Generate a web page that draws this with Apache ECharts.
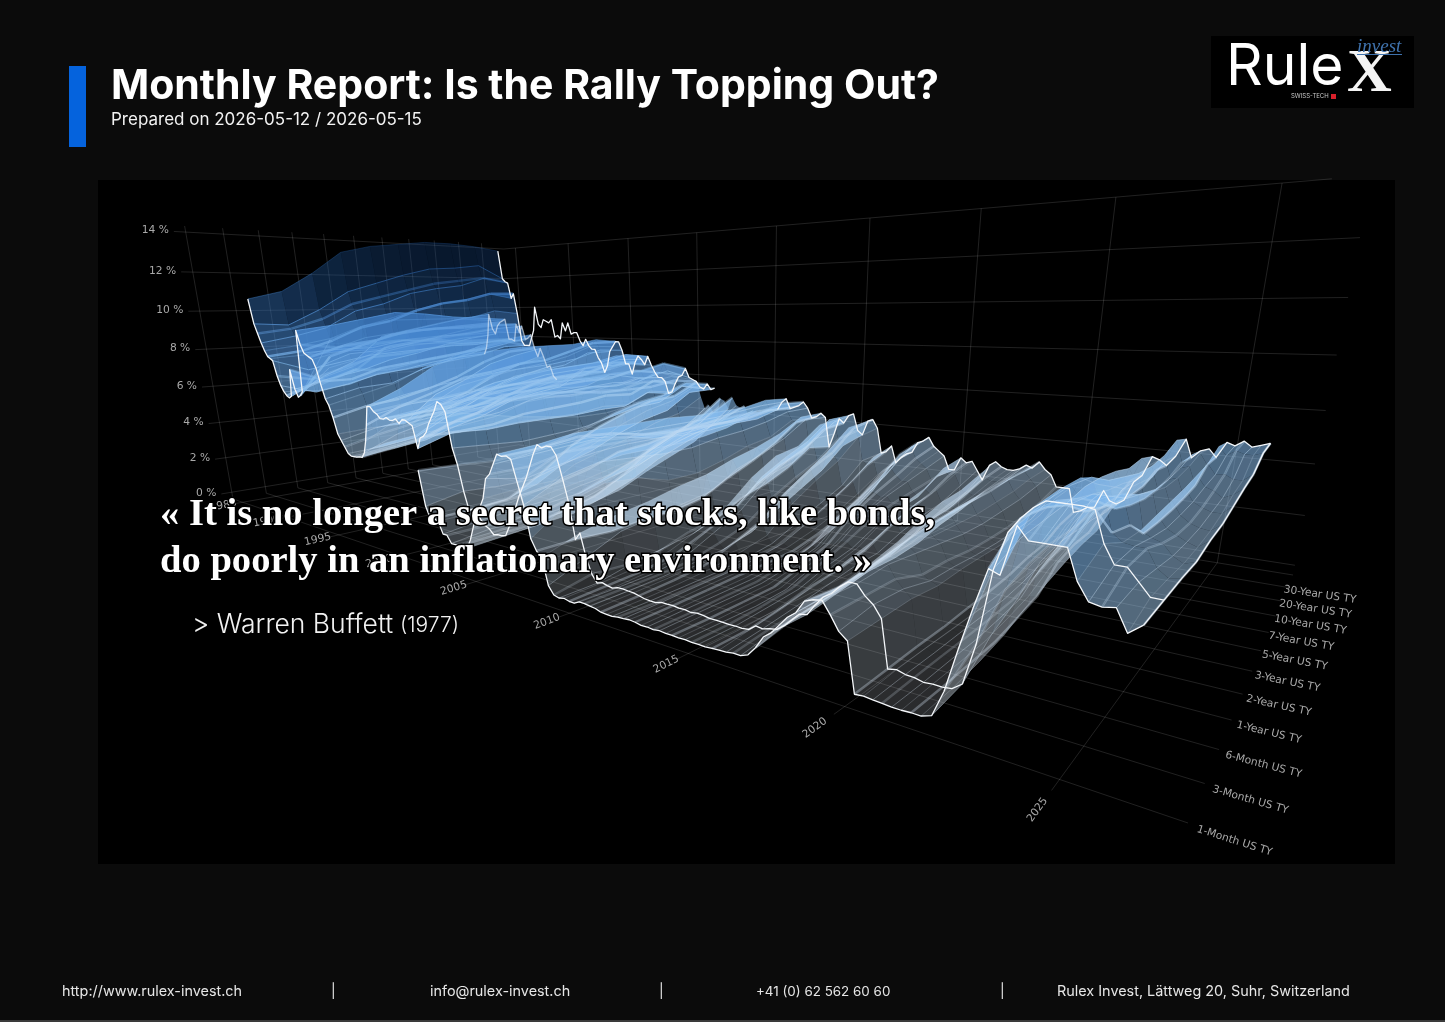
<!DOCTYPE html>
<html>
<head>
<meta charset="utf-8">
<title>Monthly Report</title>
<style>
html,body{margin:0;padding:0;background:#0b0b0b;}
#chart{width:1445px;height:1022px;}
</style>
<script src="https://cdn.jsdelivr.net/npm/echarts@6/dist/echarts.min.js"></script>
</head>
<body>
<div id="chart"></div>
<script>
// US Treasury constant maturity yields (%), 168 evenly spaced readings per maturity.
const firstDate = 1985.4;
const dateStep = 0.2437;
const none = n => Array(n).fill(null);

const m1 = [...none(68),
3.67,2.2,
1.7,1.75,1.7,1.2, 1.2,.9,.9,.9, .85,.9,1.3,1.85, 2.4,2.7,3.1,3.9, 4.1,4.5,4.9,4.85, 4.9,4.8,4,3.2, 2,1.6,1.4,.4,
.1,.05,.1,.05, .04,.15,.15,.12, .1,.03,.02,.01, .05,.06,.09,.07, .03,.04,.02,.05, .03,.03,.02,.03, .01,.02,.01,.03,
.05,.06,.1,.1, .2,.5,.9,1.1, 1.4,1.7,1.9,2.3, 2.4,2.45,2.1,1.7, 1.5,.05,.08,.06, .05,.03,.03,.05, .05,.15,.9,2.1,
3.2,4.2,4.1,5.3, 5,5,5,5, 4.3,3.9,3.85,3.9, 3.4,3.65];

const m3 = [10.6,9.3,
8.8,8.3,7.9,7.6, 7.5,7.4,6.6,6.1, 5.8,5.6,5.5,5.6, 7,6,5.6,5.7, 5.9,9,8.3,7.9, 7.8,7.7,7.6,7.2,
6.4,5.7,5.4,4.8, 4,3.7,3.4,3.1, 3,3,3,3.05, 3.05,3.3,3.9,4.7, 5.6,5.6,5.4,5.3, 5.1,5.1,5.2,5.1,
5.1,5.2,5,5.2, 5.2,5.1,5,4, 4.5,4.6,4.8,5.2, 5.5,5.8,6.2,6.1, 5.8,4.3,3.6,2.5, 1.7,1.8,1.7,1.4,
1.2,1.1,.9,.95, .95,1,1.4,1.7, 2.3,2.8,3.2,3.6, 4.1,4.6,5,4.9, 5,5,4.7,3.9, 3,1.6,1.9,1,
.4,.1,.18,.12, .08,.16,.17,.15, .14,.09,.04,.02, .02,.09,.09,.1, .07,.08,.04,.08, .07,.03,.03,.03,
.02,.03,.02,.05, .24,.21,.28,.33, .52,.77,1.03,1.08, 1.45,1.76,1.93,2.2, 2.4,2.4,2.1,1.9, 1.55,.1,.16,.09,
.08,.02,.05,.04, .08,.3,1.5,3.6, 4.6,5,5.3,5.5, 5.5,5.5,5.5,5.45, 4.7,4.25,4.25,3.95, 3.65,3.65];

const m6 = [11,9.2,
9,8.6,8.1,7.8, 7.6,6.8,6.3,5.6, 5.7,6.2,6.4,6.5, 6.3,6.4,7,7.6, 8.5,9.2,8.1,8, 7.9,8.2,8,7.8,
7,6.1,5.8,5.2, 4.1,4.1,3.8,3.2, 3.4,3.2,3.2,3.2, 3.3,4,4.8,5.4, 6.3,6,5.6,5.6, 5.2,5.2,5.4,5.3,
5.4,5.5,5.3,5.3, 5.4,5.3,5.2,4.5, 4.5,4.6,4.9,5.1, 5.7,6.1,6.4,6.2, 5.5,4.2,3.5,2.4, 1.8,1.9,1.8,1.5,
1.2,1.1,1,1, 1,1.1,1.7,2.1, 2.6,3,3.2,3.9, 4.4,4.7,5.2,5.1, 5.1,5.1,5,4.2, 3.4,1.5,2.2,1.6,
.3,.4,.3,.2, .2,.2,.2,.2, .2,.17,.1,.05, .06,.15,.16,.14, .11,.11,.09,.1, .09,.06,.06,.03,
.1,.14,.08,.23, .48,.39,.36,.45, .62,.89,1.13,1.28, 1.6,1.91,2.11,2.35, 2.5,2.5,2.1,1.85, 1.6,.15,.17,.09,
.1,.05,.05,.06, .2,1.1,2.5,4, 4.8,4.9,5.4,5.55, 5.25,5.4,5.35,4.5, 4.3,4.25,4.25,3.8, 3.6,3.65];

const y1 = [12,10,
9.5,9,8.4,8.3, 7.9,7.1,6.8,5.9, 5.9,6.2,6.9,7.2, 6.8,6.7,7.4,8.1, 9,9.5,8.2,8, 7.9,8.4,8.2,7.9,
6.9,6.2,6.2,5.4, 4.1,4.3,4.1,3.4, 3.6,3.4,3.4,3.4, 3.6,4.4,5.3,5.9, 7.2,6.3,5.7,5.7, 5.2,5.3,5.6,5.5,
5.6,5.9,5.6,5.4, 5.5,5.4,5.4,4.4, 4.5,4.7,5.1,5.3, 6,6.3,6.2,6, 5.2,4.1,3.6,2.4, 2.2,2.7,2.1,1.6,
1.3,1.2,1.1,1.3, 1.2,1.2,2.1,2.2, 2.8,3.3,3.5,4.1, 4.4,4.8,5.2,5, 5,4.9,4.9,4.1, 3.3,1.6,2.4,1.8,
.4,.6,.5,.4, .4,.4,.3,.3, .3,.3,.2,.1, .1,.2,.2,.2, .15,.14,.11,.13, .13,.1,.11,.13,
.25,.26,.33,.5, .65,.59,.45,.6, .89,1.03,1.24,1.47, 1.83,2.1,2.33,2.6, 2.6,2.4,1.75,1.6, 1.5,.17,.16,.12,
.1,.06,.07,.09, .4,1.6,2.8,4.1, 4.7,4.6,5.4,5.45, 4.8,5,5.1,4.3, 4.2,4.05,3.95,3.65, 3.5,3.6];

const y2 = [13.2,11,
10.3,9.9,9,9, 8.4,7.4,7.3,6.3, 6.4,6.7,7.6,8.5, 7.9,7.2,8,8.6, 9.4,9.8,8.3,8.3, 8.1,8.8,8.4,8.2,
7.2,6.8,6.9,5.8, 4.9,5.5,4.9,4.2, 4.5,4,4,3.9, 4.3,5.3,6.1,6.5, 7.7,6.5,5.9,5.9, 5.2,5.9,6.2,6,
5.9,6.4,6,5.8, 5.6,5.6,5.6,4.5, 4.6,5,5.6,5.7, 6.4,6.5,6.3,6.1, 5,4.2,3.9,2.8, 3,3.7,2.9,1.9,
1.6,1.5,1.2,1.6, 1.8,1.6,2.6,2.6, 3.1,3.8,3.7,4.2, 4.4,4.8,5.2,4.7, 4.8,4.6,4.9,4, 2.9,1.6,2.7,2,
.8,.8,1,.9, 1.1,1,.6,.4, .6,.8,.4,.2, .25,.3,.3,.23, .25,.25,.35,.33, .38,.45,.5,.58,
.67,.64,.7,.64, 1,.8,.7,.77, 1.2,1.27,1.4,1.47, 1.9,2.27,2.55,2.8, 2.5,2.3,1.75,1.6, 1.58,.25,.16,.13,
.12,.16,.25,.28, .78,2.3,2.95,4.2, 4.4,4.05,4.9,5.05, 4.25,4.6,4.75,3.65, 4.25,3.9,3.75,3.6, 3.5,3.75];

const y3 = [13.6,11.5,
10.7,10.3,9.4,9.3, 8.6,7.5,7.4,6.5, 6.5,6.9,7.9,8.8, 8.1,7.5,8.2,8.8, 9.4,9.7,8.3,8.2, 8.1,8.9,8.5,8.5,
7.4,7.2,7.4,6.3, 5.3,6.1,5.5,4.9, 5,4.4,4.4,4.3, 4.6,5.7,6.4,6.7, 7.8,6.7,6,6, 5.3,6.1,6.5,6.2,
6,6.6,6.2,5.9, 5.6,5.7,5.6,4.5, 4.6,5.1,5.7,5.9, 6.5,6.5,6.2,6, 4.8,4.3,4.3,3.2, 3.6,4.4,3.3,2.1,
2,1.9,1.5,2.3, 2.4,2.1,3.1,2.9, 3.3,3.9,3.7,4.2, 4.4,4.8,5.2,4.6, 4.7,4.5,4.9,4, 2.9,1.8,2.9,2.2,
1,1.2,1.6,1.4, 1.7,1.6,1,.7, 1,1.3,.7,.4, .36,.5,.4,.3, .37,.36,.66,.63, .78,.88,.9,1.07,
1.1,.9,1,.9, 1.3,.9,.8,.9, 1.5,1.5,1.55,1.6, 2,2.4,2.6,2.9, 2.5,2.2,1.65,1.55, 1.6,.3,.2,.15,
.17,.3,.46,.5, 1.04,2.5,2.95,4.4, 4.2,3.8,4.5,4.85, 4,4.4,4.5,3.6, 4.3,3.9,3.7,3.6, 3.55,3.8];

const y5 = [13.8,12,
11.1,10.9,9.9,9.9, 8.9,7.6,7.6,6.8, 6.7,7.1,8,9.1, 8.3,7.9,8.5,8.9, 9.4,9.5,8.1,8, 8,8.9,8.5,8.6,
7.7,7.6,7.9,7, 6,6.9,6.3,5.7, 5.7,5.1,5,4.9, 5.1,6.3,6.7,7, 7.9,6.8,6,6.1, 5.4,6.2,6.7,6.5,
6.2,6.8,6.4,6, 5.6,5.7,5.5,4.5, 4.6,5.2,5.7,6, 6.5,6.5,6.1,5.8, 4.8,4.6,4.8,3.8, 4.3,4.9,3.7,2.6,
2.7,2.5,2.1,3.2, 3.2,2.8,3.8,3.4, 3.6,4.2,3.7,4.2, 4.4,4.8,5.1,4.6, 4.7,4.5,4.9,4.2, 3.2,2.4,3.3,2.9,
1.6,1.8,2.6,2.3, 2.7,2.6,1.8,1.3, 2,2.2,1.7,.9, .83,1,.7,.6, .76,.77,1.4,1.4, 1.72,1.7,1.63,1.8,
1.6,1.4,1.6,1.4, 1.75,1.3,1.2,1.3, 1.95,1.9,1.9,1.9, 2.2,2.6,2.7,2.95, 2.5,2.2,1.65,1.55, 1.6,.4,.3,.28,
.36,.9,.9,1.2, 1.3,2.5,3,4.4, 4,3.6,4.1,4.65, 3.85,4.2,4.3,3.6, 4.35,3.95,3.8,3.7, 3.7,4];

const y7 = [14,12.4,
11.5,11.2,10.3,10.3, 9.2,7.7,7.8,7, 6.9,7.3,8.2,9.4, 8.5,8.2,8.8,9, 9.3,9.4,8.1,8, 8,9,8.6,8.8,
8,7.9,8.2,7.5, 6.6,7.3,6.8,6.2, 6.2,5.6,5.4,5.2, 5.4,6.5,6.9,7.1, 7.9,6.9,6.1,6.2, 5.5,6.3,6.8,6.6,
6.3,6.9,6.5,6.1, 5.7,5.8,5.6,4.6, 4.8,5.4,5.9,6.1, 6.6,6.5,6.1,5.8, 5,4.9,5.2,4.3, 4.8,5.3,4.2,3.1,
3.3,3.1,2.6,3.8, 3.8,3.3,4.2,3.8, 3.9,4.3,3.8,4.3, 4.4,4.8,5.1,4.6, 4.7,4.6,5,4.3, 3.6,2.9,3.6,3.3,
1.9,2.4,3.3,2.9, 3.3,3.3,2.4,1.9, 2.7,2.9,2.4,1.4, 1.3,1.6,1.1,1, 1.2,1.2,1.9,2, 2.3,2.25,2.1,2.2,
1.9,1.7,2,1.8, 2.1,1.6,1.4,1.6, 2.3,2.2,2.1,2.1, 2.4,2.7,2.8,3, 2.6,2.3,1.7,1.6, 1.7,.6,.5,.5,
.65,1.3,1.2,1.45, 1.5,2.5,3,4.3, 3.9,3.5,4,4.6, 3.85,4.2,4.3,3.65, 4.45,4.1,4,3.8, 3.95,4.2];

const y10 = [14,12.5,
11.7,11.4,10.5,10.5, 9.4,7.7,7.8,7.1, 7.1,7.5,8.3,9.6, 8.7,8.4,8.9,9.1, 9.2,9.3,8.1,8.1, 8,9,8.5,8.9,
8.1,8.2,8.4,7.6, 7.1,7.6,7.1,6.5, 6.6,6,5.8,5.4, 5.7,6.7,7.2,7.5, 7.9,7.1,6.1,6.2, 5.6,6.4,6.9,6.7,
6.4,7,6.5,6.1, 5.7,5.7,5.5,4.6, 4.7,5.3,5.9,6, 6.6,6.2,6,5.8, 5.1,5,5.4,4.6, 5.1,5.4,4.5,3.7,
3.8,3.6,3.1,4.3, 4.2,3.8,4.6,4.1, 4.2,4.5,4,4.4, 4.4,4.9,5.1,4.6, 4.8,4.6,5,4.5, 3.8,3.5,4,3.8,
2.4,2.7,3.5,3.3, 3.8,3.8,2.9,2.5, 3.4,3.4,3,1.9, 1.9,2.2,1.6,1.6, 1.8,1.9,2.5,2.6, 3,2.7,2.5,2.5,
2.1,1.9,2.3,2.1, 2.3,1.8,1.5,1.8, 2.45,2.4,2.3,2.4, 2.6,2.8,2.9,3.15, 2.7,2.4,1.8,1.7, 1.85,.7,.65,.7,
.9,1.7,1.45,1.5, 1.6,2.4,3,4.1, 3.7,3.5,3.9,4.7, 3.95,4.3,4.4,3.75, 4.55,4.2,4.25,4.1, 4.1,4.35];

const y20 = [13.9,12.7,
11.9,11.9,10.9,10.9, 9.8,7.9,7.9,7.5, ...none(27), 6.2,
6.4,7.3,7.7,7.9, 8.1,7.5,6.5,6.6, 6.1,6.8,7.2,7, 6.8,7.3,6.8,6.4, 6,6,5.8,5.2, 5.3,5.9,6.4,6.4,
6.9,6.5,6.2,6, 5.7,5.7,5.9,5.4, 5.7,6,5.2,4.6, 4.8,4.5,4,5.2, 5.1,4.7,5.3,4.9, 4.8,4.9,4.4,4.7,
4.7,5,5.3,4.8, 4.9,4.9,5.2,4.8, 4.4,4.3,4.6,4.5, 3.1,3.6,4.3,4.1, 4.6,4.5,3.7,3.4, 4.3,4.3,3.9,2.8,
2.6,3,2.2,2.4, 2.6,2.9,3.3,3.4, 3.7,3.2,3,2.8, 2.3,2.5,2.9,2.6, 2.7,2.2,1.8,2.3, 2.8,2.7,2.6,2.6,
2.7,2.9,3,3.2, 2.9,2.6,2,2.1, 2.2,1.1,1.2,1.3, 1.4,2.3,1.9,1.95, 2.1,2.9,3.3,4.2, 3.95,3.8,4.2,5,
4.2,4.5,4.6,4.2, 4.9,4.6,4.8,4.7, 4.7,4.8];

const y30 = [13.7,11.9,
11.7,11.6,10.6,10.9, 9.6,7.8,7.5,7.5, 7.5,8,8.5,10, 8.9,8.7,9.2,9.1, 9,9.2,8.1,8.2, 8,9,8.5,9,
8.3,8.4,8.4,7.9, 7.6,8,7.6,7.4, 7.4,6.9,6.6,6, 6.4,7.3,7.6,7.9, 7.9,7.4,6.6,6.6, 6,6.7,7.1,6.9,
6.6,7.1,6.6,6.2, 5.9,5.9,5.7,5, 5.1,5.6,6,6.1, 6.5,6,5.9,5.8, 5.5,5.4,5.7,5.4, 5.5, ...none(15),
4.6,5,5.2,4.7, 4.8,4.9,5.1,4.8, 4.3,4.4,4.6,4.4, 2.9,3.6,4.4,4.2, 4.6,4.7,3.9,3.7, 4.4,4.5,4.1,2.9,
3,3.3,2.5,2.8, 3,3.1,3.6,3.7, 3.9,3.5,3.3,3.1, 2.5,2.5,3.1,2.9, 3,2.6,2.2,2.9, 3.1,2.9,2.8,2.8,
2.9,3.1,3,3.3, 3,2.8,2.3,2.3, 2.3,1.3,1.4,1.6, 1.65,2.4,2,1.9, 2.1,2.9,3.2,4, 3.9,3.7,4.1,4.8,
4.1,4.4,4.5,4.2, 4.8,4.7,4.9,4.7, 4.8,4.9];

const curves = [m1, m3, m6, y1, y2, y3, y5, y7, y10, y20, y30];
const tenorLabels = ['1-Month US TY','3-Month US TY','6-Month US TY','1-Year US TY','2-Year US TY','3-Year US TY','5-Year US TY','7-Year US TY','10-Year US TY','20-Year US TY','30-Year US TY'];
const yearTicks = [1985,1990,1995,2000,2005,2010,2015,2020,2025];
const yieldTicks = [0,2,4,6,8,10,12,14];
const outlinedCurves = [0, 1, 10];

// Scene ranges of the three axes.
const timeRange = [1983.8, 2027.3];
const tenorRange = [0, 11];
const yieldRange = [-0.4, 14.3];

// Camera: where the floor corners and the upright vanishing point land on the canvas plane.
const floorA = [233, 499], floorB = [1188, 823], floorC = [1293, 575], floorD = [519, 450];
const uprightVanish = [740, 3360];
const wallTopV = 226;

const dx1 = floorB[0] - floorC[0], dx2 = floorD[0] - floorC[0], sx = floorA[0] - floorB[0] + floorC[0] - floorD[0];
const dy1 = floorB[1] - floorC[1], dy2 = floorD[1] - floorC[1], sy = floorA[1] - floorB[1] + floorC[1] - floorD[1];
const den = dx1 * dy2 - dx2 * dy1;
const g = (sx * dy2 - dx2 * sy) / den, h = (dx1 * sy - sx * dy1) / den;
const a = floorB[0] - floorA[0] + g * floorB[0], b = floorD[0] - floorA[0] + h * floorD[0], c = floorA[0];
const d = floorB[1] - floorA[1] + g * floorB[1], e = floorD[1] - floorA[1] + h * floorD[1], f = floorA[1];
const k = (wallTopV - f) / (uprightVanish[1] - wallTopV);

function project(year, tenor, rate) {
  const s = (year - timeRange[0]) / (timeRange[1] - timeRange[0]);
  const t = (tenor - tenorRange[0]) / (tenorRange[1] - tenorRange[0]);
  const r = (rate - yieldRange[0]) / (yieldRange[1] - yieldRange[0]);
  const w = g * s + h * t + 1 + k * r;
  return [(a * s + b * t + c + k * r * uprightVanish[0]) / w, (d * s + e * t + f + k * r * uprightVanish[1]) / w];
}

// Colour ramp of the surface: pale at low yields, deepening to navy at high yields.
const rampStops = [[0,[228,236,244]],[3,[178,212,242]],[5,[128,184,236]],[8,[78,142,214]],[11,[38,96,168]],[14,[22,66,128]]];
const rampAlpha = [[0,0.18],[3,0.48],[5,0.58],[8,0.6],[11,0.4],[14,0.3]];
function rampColor(rate, scale) {
  let i = 0;
  while (i < rampStops.length - 2 && rate > rampStops[i + 1][0]) i++;
  const [r0, c0] = rampStops[i], [r1, c1] = rampStops[i + 1];
  const w = Math.max(0, Math.min(1, (rate - r0) / (r1 - r0)));
  const rgb = c0.map((v, n) => Math.round(v + (c1[n] - v) * w));
  const al = (rampAlpha[i][1] + (rampAlpha[i + 1][1] - rampAlpha[i][1]) * w) * scale;
  return `rgba(${rgb[0]},${rgb[1]},${rgb[2]},${Math.min(1, al).toFixed(3)})`;
}

const dateOf = i => firstDate + i * dateStep;
const rowCount = y30.length;

function drawScene(params, api) {
  const P = (x, y, z) => api.coord(project(x, y, z));
  const kids = [];
  const gridStroke = 'rgba(255,255,255,0.13)';
  const line = (p, q) => kids.push({type:'line', shape:{x1:p[0],y1:p[1],x2:q[0],y2:q[1]}, style:{stroke:gridStroke,lineWidth:1}, silent:true});
  const [xMin, xMax] = timeRange, [tMin, tMax] = tenorRange, [zMin, zMax] = yieldRange;
  const front = -0.3;

  // walls and floor
  yieldTicks.forEach(z => {
    line(P(xMin, front, z), P(xMin, tMax, z));
    line(P(xMin, tMax, z), P(z === 14 ? 2026.3 : xMax, tMax, z));
  });
  yearTicks.forEach(x => {
    line(P(x, front, zMin), P(x, tMax, zMin));
    line(P(x, tMax, zMin), P(x, tMax, 14));
  });
  tenorLabels.forEach((_, n) => {
    line(P(xMin, n, zMin), P(xMax, n, zMin));
    line(P(xMin, n, zMin), P(xMin, n, zMax));
  });
  line(P(xMin, tMax, zMin), P(xMax, tMax, zMin));

  // surface patches between neighbouring dates and neighbouring maturities
  for (let i = 0; i < rowCount - 1; i++) {
    for (let n = 0; n < curves.length - 1; n++) {
      const v = [curves[n][i], curves[n + 1][i], curves[n + 1][i + 1], curves[n][i + 1]];
      if (v.some(q => q === null)) continue;
      const mean = (v[0] + v[1] + v[2] + v[3]) / 4;
      kids.push({type:'polygon', silent:true,
        shape:{points:[P(dateOf(i),n,v[0]),P(dateOf(i),n+1,v[1]),P(dateOf(i+1),n+1,v[2]),P(dateOf(i+1),n,v[3])]},
        style:{fill:rampColor(mean,1)}});
    }
  }
  // one thin curve per date across maturities
  for (let i = 0; i < rowCount; i++) {
    for (let n = 0; n < curves.length - 1; n++) {
      const p = curves[n][i], q = curves[n + 1][i];
      if (p === null || q === null) continue;
      const from = P(dateOf(i), n, p), to = P(dateOf(i), n + 1, q);
      kids.push({type:'line', silent:true, shape:{x1:from[0],y1:from[1],x2:to[0],y2:to[1]},
        style:{stroke:rampColor(Math.max(0.9, (p + q) / 2 - 2), i % 2 ? 1.25 : 0.8), lineWidth:i % 3 === 2 ? 2.4 : 1}});
    }
  }
  // bright outlines along the short end and the long end
  const outline = (points, stroke) => kids.push({type:'polyline', silent:true, shape:{points}, style:{stroke,fill:null,lineWidth:1.3,lineJoin:'round'}});
  outlinedCurves.forEach(n => {
    let run = [];
    const flush = () => { if (run.length > 1) outline(run, '#f4f7fa'); run = []; };
    curves[n].forEach((v, i) => { if (v === null) flush(); else run.push(P(dateOf(i), n, v)); });
    flush();
  });
  // the 10-year curve is the open edge of the surface while the 20-year series is absent
  outline(y10.map((v, i) => [i, v]).filter(r => y20[r[0]] === null).map(r => P(dateOf(r[0]), 8, r[1])), 'rgba(235,242,250,0.6)');
  outline(curves.map((col, n) => P(dateOf(rowCount - 1), n, col[rowCount - 1])), '#f4f7fa');

  // axis labels
  const tickFont = '10.7px "DejaVu Sans"', tickFill = '#a9a9a9';
  yieldTicks.forEach(z => {
    const p = P(xMin, front, z);
    kids.push({type:'text', silent:true, style:{text:z + ' %', x:p[0]-5, y:p[1]-1, align:'right', verticalAlign:'middle', font:tickFont, fill:tickFill}});
  });
  yearTicks.forEach(x => {
    const p = P(x, x < 2020 ? -0.55 : -0.8, zMin), q = P(x, 0, zMin);
    const ang = Math.atan2(q[1] - p[1], q[0] - p[0]);
    kids.push({type:'text', silent:true, x:p[0], y:p[1], rotation:-ang, style:{text:String(x), x:0, y:0, align:'center', verticalAlign:'middle', font:tickFont, fill:tickFill}});
  });
  tenorLabels.forEach((label, n) => {
    const p = P(xMax, n, zMin), q = P(xMin, n, zMin);
    const ang = Math.atan2(p[1] - q[1], p[0] - q[0]);
    kids.push({type:'text', silent:true, x:p[0] + 9 - n * 1.3, y:p[1] + 6 - n * 0.4, rotation:-(ang - 0.02), style:{text:label, x:0, y:0, align:'left', verticalAlign:'middle', font:tickFont, fill:tickFill}});
  });
  return {type:'group', children:kids};
}

const sans = 'Inter, "Open Sans", sans-serif';
const page = [
  {type:'rect', z:1, shape:{x:98,y:180,width:1297,height:684}, style:{fill:'#000'}},
  {type:'rect', z:1, shape:{x:0,y:1020,width:1445,height:2}, style:{fill:'#3a3a3a'}},
  {type:'rect', z:1, shape:{x:69,y:66,width:17,height:81}, style:{fill:'#0563dd'}},
  {type:'text', z:10, style:{text:'Monthly Report: Is the Rally Topping Out?', x:111, y:87, verticalAlign:'middle', fill:'#fff', font:'700 41px ' + sans}},
  {type:'text', z:10, style:{text:'Prepared on 2026-05-12 / 2026-05-15', x:111, y:120, verticalAlign:'middle', fill:'#f2f2f2', font:'400 17px ' + sans}},
  // logo plate
  {type:'rect', z:1, shape:{x:1211,y:36,width:203,height:72}, style:{fill:'#000'}},
  {type:'text', z:10, style:{text:'Rule', x:1226, y:68, verticalAlign:'middle', fill:'#fff', font:'400 57px ' + sans}},
  {type:'text', z:10, style:{text:'X', x:1347, y:75, verticalAlign:'middle', fill:'#f4f4f4', font:'700 62px "Liberation Serif"'}},
  {type:'text', z:11, style:{text:'invest', x:1357, y:47, verticalAlign:'middle', fill:'#3f72ad', font:'italic 19px "Liberation Serif"'}},
  {type:'rect', z:11, shape:{x:1357,y:54,width:45,height:1}, style:{fill:'#3f72ad'}},
  {type:'text', z:10, style:{text:'SWISS-TECH', x:1291, y:96, verticalAlign:'middle', fill:'#c8c8c8', font:'6px ' + sans}},
  {type:'rect', z:10, shape:{x:1331,y:94,width:5,height:5}, style:{fill:'#d8202a'}},
  // quotation over the chart
  {type:'text', z:20, style:{text:'« It is no longer a secret that stocks, like bonds,', x:160, y:515, verticalAlign:'middle', fill:'#fff', stroke:'#000', lineWidth:3, font:'700 38.6px "Liberation Serif"'}},
  {type:'text', z:20, style:{text:'do poorly in an inflationary environment. »', x:160, y:562, verticalAlign:'middle', fill:'#fff', stroke:'#000', lineWidth:3, font:'700 38.6px "Liberation Serif"'}},
  {type:'text', z:20, style:{text:'> Warren Buffett', x:192, y:625, verticalAlign:'middle', fill:'#f2f2f2', font:'300 26.5px ' + sans}},
  {type:'text', z:20, style:{text:'(1977)', x:400, y:626, verticalAlign:'middle', fill:'#f2f2f2', font:'300 21px ' + sans}},
  // footer
  {type:'text', z:10, style:{text:'http://www.rulex-invest.ch', x:62, y:992, verticalAlign:'middle', fill:'#e6e6e6', font:'400 14.4px ' + sans}},
  {type:'text', z:10, style:{text:'|', x:331, y:992, verticalAlign:'middle', fill:'#e6e6e6', font:'400 14px ' + sans}},
  {type:'text', z:10, style:{text:'info@rulex-invest.ch', x:430, y:992, verticalAlign:'middle', fill:'#e6e6e6', font:'400 14.4px ' + sans}},
  {type:'text', z:10, style:{text:'|', x:659, y:992, verticalAlign:'middle', fill:'#e6e6e6', font:'400 14px ' + sans}},
  {type:'text', z:10, style:{text:'+41 (0) 62 562 60 60', x:756, y:992, verticalAlign:'middle', fill:'#e6e6e6', font:'400 13.4px ' + sans}},
  {type:'text', z:10, style:{text:'|', x:1000, y:992, verticalAlign:'middle', fill:'#e6e6e6', font:'400 14px ' + sans}},
  {type:'text', z:10, style:{text:'Rulex Invest, Lättweg 20, Suhr, Switzerland', x:1057, y:992, verticalAlign:'middle', fill:'#e6e6e6', font:'400 14.4px ' + sans}}
];

const chart = echarts.init(document.getElementById('chart'));
chart.setOption({
  animation:false,
  backgroundColor:'#0b0b0b',
  grid:{left:0, right:0, top:0, bottom:0},
  xAxis:{type:'value', min:0, max:1445, show:false},
  yAxis:{type:'value', min:0, max:1022, inverse:true, show:false},
  graphic:page,
  series:[{type:'custom', coordinateSystem:'cartesian2d', clip:false, silent:true, z:5, data:[[0,0]], renderItem:drawScene}]
});
</script>
</body>
</html>
